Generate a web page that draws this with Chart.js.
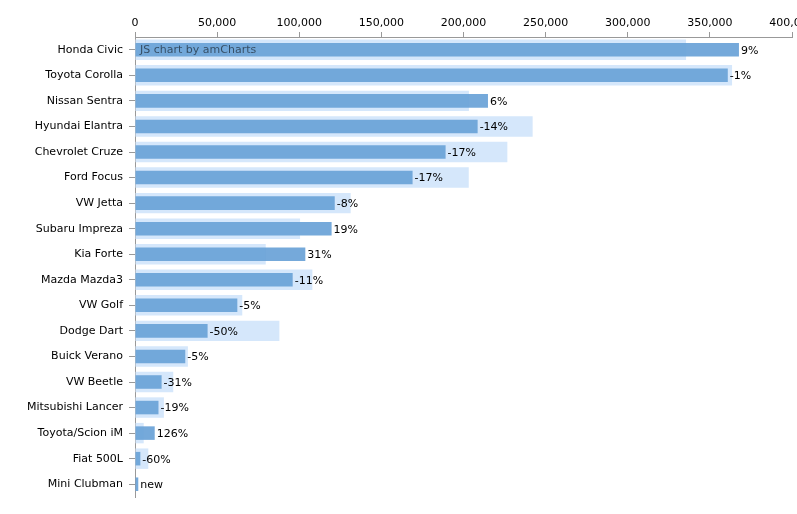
<!DOCTYPE html>
<html>
<head>
<meta charset="utf-8">
<script src="https://cdn.jsdelivr.net/npm/chart.js@4/dist/chart.umd.min.js"></script>
<style>
  html, body { margin: 0; padding: 0; background: #fff; overflow: hidden; }
  #wrap { width: 797px; height: 514px; position: relative; }
</style>
</head>
<body>
<div id="wrap"><canvas id="myChart"></canvas></div>
<script>
// Data
const models = ["Honda Civic", "Toyota Corolla", "Nissan Sentra", "Hyundai Elantra", "Chevrolet Cruze",
  "Ford Focus", "VW Jetta", "Subaru Impreza", "Kia Forte", "Mazda Mazda3", "VW Golf", "Dodge Dart",
  "Buick Verano", "VW Beetle", "Mitsubishi Lancer", "Toyota/Scion iM", "Fiat 500L", "Mini Clubman"];

const sales_current = [367700, 360900, 214900, 208600, 189100, 169000, 121600, 119700, 103700, 96000,
  62300, 44200, 30600, 16200, 14300, 12000, 3250, 2000];

const sales_previous = [335500, 363500, 203300, 242100, 226700, 203200, 131300, 100500, 79600, 108000,
  65300, 87900, 32200, 23300, 17600, 5300, 8100, null];

const change_labels = ["9%", "-1%", "6%", "-14%", "-17%", "-17%", "-8%", "19%", "31%", "-11%",
  "-5%", "-50%", "-5%", "-31%", "-19%", "126%", "-60%", "new"];

const x_ticks = [0, 50000, 100000, 150000, 200000, 250000, 300000, 350000, 400000];

const font_family = "Verdana, 'DejaVu Sans', sans-serif";

// Draw the change labels after the dark bars, plus the credit text
const labelPlugin = {
  id: 'changeLabels',
  afterDatasetsDraw(chart) {
    const ctx = chart.ctx;
    const meta = chart.getDatasetMeta(1);
    ctx.save();
    ctx.font = "11px " + font_family;
    ctx.fillStyle = "#000";
    ctx.textAlign = "left";
    ctx.textBaseline = "middle";
    meta.data.forEach((bar, i) => {
      ctx.fillText(change_labels[i], bar.x + 2, bar.y + 1);
    });
    ctx.fillStyle = "rgba(0,0,0,0.55)";
    ctx.fillText("JS chart by amCharts", chart.chartArea.left + 5, chart.chartArea.top + 13);
    ctx.restore();
  }
};

const ctx = document.getElementById("myChart").getContext("2d");

const myChart = new Chart(ctx, {
  type: 'bar',
  data: {
    labels: models,
    datasets: [
      {
        label: 'Previous year',
        data: sales_previous,
        backgroundColor: 'rgb(213, 231, 251)',
        barPercentage: 0.8,
        categoryPercentage: 1,
        grouped: false,
        order: 2
      },
      {
        label: 'Current year',
        data: sales_current,
        backgroundColor: 'rgba(106, 162, 215, 0.93)',
        barPercentage: 0.53,
        categoryPercentage: 1,
        grouped: false,
        order: 1
      }
    ]
  },
  plugins: [labelPlugin],
  options: {
    indexAxis: 'y',
    responsive: true,
    maintainAspectRatio: false,
    animation: false,
    layout: { padding: { top: 0, right: 5, bottom: 17, left: 0 } },
    plugins: {
      legend: { display: false },
      tooltip: { enabled: false }
    },
    scales: {
      x: {
        position: 'top',
        min: 0,
        max: 400000,
        afterBuildTicks: (s) => { s.ticks = x_ticks.map(v => ({ value: v })); },
        afterFit: (s) => { s.paddingLeft = 0; s.paddingRight = 0; s.height = 37; },
        ticks: {
          font: { family: font_family, size: 11 },
          color: '#000',
          padding: 2,
          maxRotation: 0,
          callback: (v) => v.toLocaleString('en-US')
        },
        grid: { drawOnChartArea: false, drawTicks: true, tickLength: 5, color: '#999' },
        border: { color: '#999' }
      },
      y: {
        afterFit: (s) => { s.width = 135; s.paddingTop = 0; s.paddingBottom = 0; },
        ticks: {
          font: { family: font_family, size: 11 },
          color: '#000',
          padding: 6
        },
        grid: { drawOnChartArea: false, drawTicks: true, tickLength: 6, color: '#999', offset: false },
        border: { color: '#999' }
      }
    }
  }
});
</script>
</body>
</html>
